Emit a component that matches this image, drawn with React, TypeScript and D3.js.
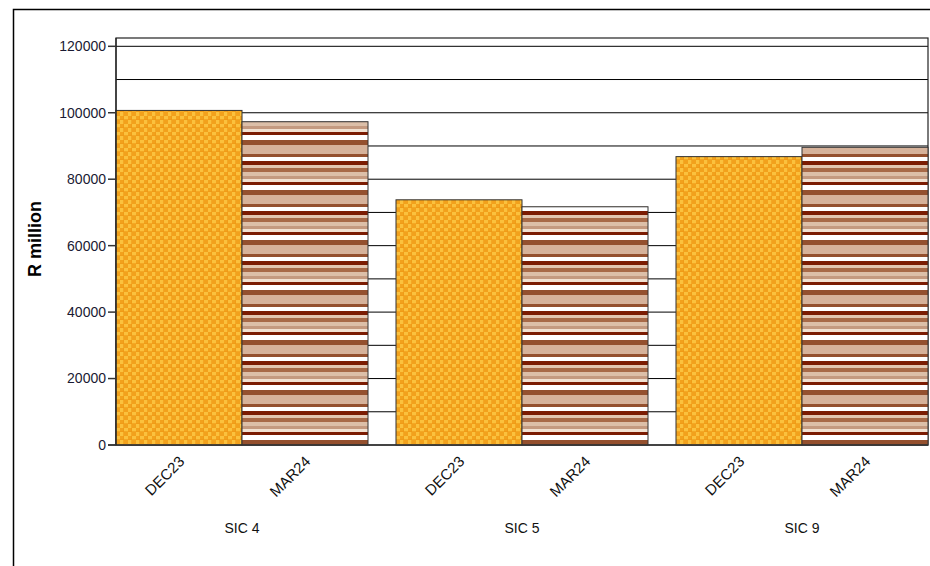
import React from "react";
import * as d3 from "d3";

const groups = ["SIC 4", "SIC 5", "SIC 9"];
const periods = ["DEC23", "MAR24"];
const dec23 = [100700, 73800, 86800];
const mar24 = [97300, 71700, 89600];
const yTicks = [0, 20000, 40000, 60000, 80000, 100000, 120000];
const gridValues = [10000, 20000, 30000, 40000, 50000, 60000, 70000, 80000, 90000, 100000, 110000, 120000];

const W = 930;
const H = 566;
const M = { left: 116, right: 2, top: 38, bottom: 121 };

export default function App() {
  const x0 = d3
    .scaleBand<string>()
    .domain(groups)
    .range([M.left, W - M.right])
    .paddingInner(0.1)
    .paddingOuter(0);
  const x1 = d3.scaleBand<string>().domain(periods).range([0, x0.bandwidth()]).padding(0);
  const y = d3.scaleLinear().domain([0, 122500]).range([H - M.bottom, M.top]);
  const series = [dec23, mar24];
  const fills = ["url(#checker)", "url(#stripes)"];
  const font = "'Liberation Sans', Arial, sans-serif";
  const stripeDefs: [number, number, string][] = [
    [0, 4, "#dcbfa8"],
    [4, 7, "#c49a80"],
    [7, 10, "#f2e2d2"],
    [10, 13, "#7b1c02"],
    [13, 18, "#ffffff"],
    [18, 23, "#94502e"],
    [23, 32, "#d6b29a"],
    [32, 35, "#94502e"],
    [35, 39, "#ffffff"],
    [39, 43, "#7b1c02"],
    [43, 46, "#e2c6b0"],
    [46, 50, "#a86a48"],
  ];
  return (
    <svg
      width={W}
      height={H}
      style={{ position: "absolute", left: 0, top: 0, background: "#fff" }}
    >
      <defs>
        <pattern id="checker" patternUnits="userSpaceOnUse" width={8} height={8} x={M.left} y={0}>
          <rect width={8} height={8} fill="#f2a11c" />
          <rect x={0} y={0} width={4} height={4} fill="#fbc13d" />
          <rect x={4} y={4} width={4} height={4} fill="#fbc13d" />
          <rect x={3} y={0} width={1} height={8} fill="#ee9814" opacity={0.6} />
          <rect x={0} y={7} width={8} height={1} fill="#ee9814" opacity={0.6} />
        </pattern>
        <pattern id="stripes" patternUnits="userSpaceOnUse" width={10} height={50} x={0} y={122}>
          {stripeDefs.map(([a, b, c], i) => (
            <rect key={i} x={0} y={a} width={10} height={b - a} fill={c} />
          ))}
        </pattern>
      </defs>
      {/* outer border */}
      <path d={`M13.5,${H} V9.5 H${W}`} fill="none" stroke="#000" strokeWidth={1.5} />
      {/* gridlines */}
      {gridValues.map((v) => (
        <line key={v} x1={M.left} x2={W - M.right} y1={y(v)} y2={y(v)} stroke="#000" strokeWidth={1} />
      ))}
      {/* plot frame */}
      <rect
        x={M.left}
        y={M.top}
        width={W - M.right - M.left}
        height={H - M.bottom - M.top}
        fill="none"
        stroke="#222"
        strokeWidth={1.2}
      />
      {/* bars */}
      {groups.map((g, gi) => (
        <g key={g} transform={`translate(${x0(g)},0)`}>
          {periods.map((p, pi) => {
            const v = series[pi][gi];
            return (
              <rect
                key={p}
                x={x1(p)}
                y={y(v)}
                width={x1.bandwidth()}
                height={y(0) - y(v)}
                fill={fills[pi]}
                stroke="#333"
                strokeWidth={1}
              />
            );
          })}
        </g>
      ))}
      {/* y axis */}
      <line x1={M.left - 8} x2={W - M.right} y1={y(0)} y2={y(0)} stroke="#333" strokeWidth={1.5} />
      <line x1={M.left} x2={M.left} y1={M.top} y2={y(0)} stroke="#222" strokeWidth={1.2} />
      {yTicks.map((t) => (
        <g key={t}>
          <line x1={M.left - 8} x2={M.left} y1={y(t)} y2={y(t)} stroke="#333" strokeWidth={1.5} />
          <text
            x={M.left - 10}
            y={y(t)}
            dy="0.35em"
            textAnchor="end"
            fontFamily={font}
            fontSize={14}
            fill="#1a1a33"
          >
            {t}
          </text>
        </g>
      ))}
      <text
        transform={`translate(41,239) rotate(-90)`}
        textAnchor="middle"
        fontFamily={font}
        fontWeight="bold"
        fontSize={18}
        fill="#000"
      >
        R million
      </text>
      {/* x labels */}
      {groups.map((g) => (
        <g key={g}>
          {periods.map((p) => {
            const cx = (x0(g) as number) + (x1(p) as number) + x1.bandwidth() / 2 - 1;
            return (
              <text
                key={p}
                transform={`translate(${cx},${y(0) + 10}) rotate(-45)`}
                textAnchor="end"
                dy="0.7em"
                fontFamily={font}
                fontSize={15}
                fill="#111"
              >
                {p}
              </text>
            );
          })}
          <text
            x={(x0(g) as number) + x0.bandwidth() / 2}
            y={533}
            textAnchor="middle"
            fontFamily={font}
            fontSize={14}
            fill="#111"
          >
            {g}
          </text>
        </g>
      ))}
    </svg>
  );
}
